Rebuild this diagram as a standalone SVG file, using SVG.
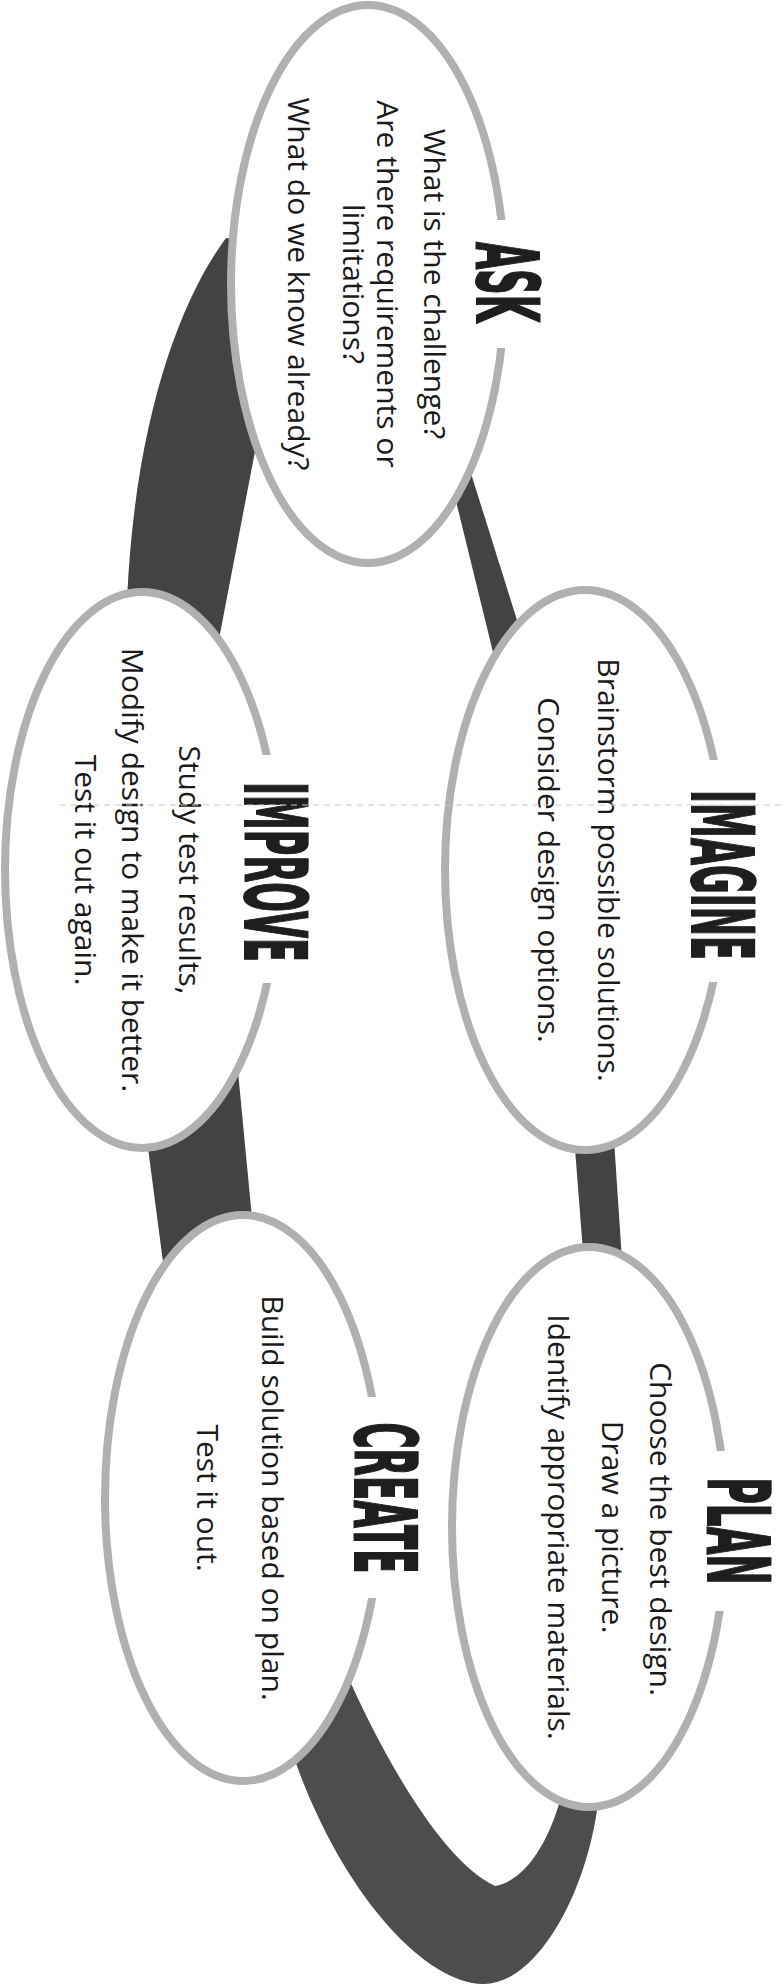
<svg xmlns="http://www.w3.org/2000/svg" width="783" height="1986" viewBox="0 0 783 1986">
<style>
.ring{fill:#434343}
.ring2{fill:#4d4d4d}
.bub{fill:#fff;stroke:#b0b0b0;stroke-width:8}
.gap{fill:#fff}
.ttl{font-family:"DejaVu Sans",sans-serif;font-weight:bold;font-size:85px;fill:#1e1e1e;stroke:#1e1e1e;stroke-width:2;text-anchor:middle}
.txt{font-family:"Open Sans","Noto Sans",sans-serif;font-size:30px;fill:#1a1a1a;text-anchor:middle}
</style>
<rect width="783" height="1986" fill="#fff"/>
<g id="connectors">
<path class="ring" d="M226,238 C180,300 135,420 127,600 L127,660 L215,660 L252,467 L265,400 L250,240 Z"/>
<path class="ring" d="M438.6,430 L457.4,430 L542,700 L504.7,700 Z"/>
<path class="ring" d="M572,1110 L612,1110 L624,1290 L586,1290 Z"/>
<path class="ring" d="M143,1110 L235,1040 L256,1260 L168,1300 Z"/>
<path class="ring2" d="M345,1670 C380,1750 440,1860 495,1886 C530,1880 555,1830 565,1780 L600,1780 C595,1880 540,1985 483,1984 C420,1983 330,1880 285,1730 Z"/>
</g>
<g id="ask" transform="translate(368,284) rotate(90)">
<ellipse class="bub" rx="279" ry="137"/>
<rect class="gap" x="-64" y="-185" width="128" height="82"/>
<text class="ttl" x="-2" y="-109" textLength="80" lengthAdjust="spacingAndGlyphs">ASK</text>
<text class="txt" y="-56">What is the challenge?</text>
<text class="txt" y="-9">Are there requirements or</text>
<text class="txt" y="25">limitations?</text>
<text class="txt" y="80">What do we know already?</text>
</g>
<g id="imagine" transform="translate(585,870) rotate(90)">
<ellipse class="bub" rx="280" ry="140"/>
<rect class="gap" x="-110" y="-187" width="222" height="82"/>
<text class="ttl" x="5" y="-107" textLength="170" lengthAdjust="spacingAndGlyphs">IMAGINE</text>
<text class="txt" y="-13">Brainstorm possible solutions.</text>
<text class="txt" y="47">Consider design options.</text>
</g>
<g id="improve" transform="translate(142,870) rotate(90)">
<ellipse class="bub" rx="278" ry="137"/>
<rect class="gap" x="-115" y="-182" width="228" height="82"/>
<text class="ttl" x="2" y="-103" textLength="180" lengthAdjust="spacingAndGlyphs">IMPROVE</text>
<text class="txt" y="-37">Study test results,</text>
<text class="txt" y="20">Modify design to make it better.</text>
<text class="txt" y="67">Test it out again.</text>
</g>
<g id="create" transform="translate(243,1498) rotate(90)">
<ellipse class="bub" rx="283" ry="138"/>
<rect class="gap" x="-101" y="-187" width="201" height="82"/>
<text class="ttl" x="0" y="-112" textLength="151" lengthAdjust="spacingAndGlyphs">CREATE</text>
<text class="txt" y="-19">Build solution based on plan.</text>
<text class="txt" y="46">Test it out.</text>
</g>
<g id="plan" transform="translate(589,1527) rotate(90)">
<ellipse class="bub" rx="280" ry="137"/>
<rect class="gap" x="-76" y="-192" width="160" height="82"/>
<text class="ttl" x="4" y="-119" textLength="107" lengthAdjust="spacingAndGlyphs">PLAN</text>
<text class="txt" x="2" y="-61">Choose the best design.</text>
<text class="txt" y="-13">Draw a picture.</text>
<text class="txt" y="41">Identify appropriate materials.</text>
</g>
<line x1="60" y1="805" x2="783" y2="805" stroke="#c8c8c8" stroke-width="1" stroke-dasharray="6 5"/>
</svg>
